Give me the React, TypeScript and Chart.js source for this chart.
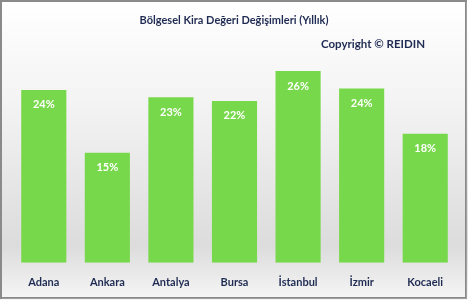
import React, { useEffect, useRef } from "react";
import { Chart, registerables } from "chart.js";

Chart.register(...registerables);

const categories = ["Adana", "Ankara", "Antalya", "Bursa", "İstanbul", "İzmir", "Kocaeli"];
const values = [23.7, 15.1, 22.7, 22.2, 26.3, 23.9, 17.7];
const valueLabels = ["24%", "15%", "23%", "22%", "26%", "24%", "18%"];
const titleText = "Bölgesel Kira Değeri Değişimleri (Yıllık)";
const copyrightText = "Copyright © REIDIN";

const FONT = "Lato, 'Open Sans', sans-serif";
const NAVY = "#1f2b52";

const framePlugin = {
  id: "frame",
  beforeDraw(chart: any) {
    const { ctx, width, height } = chart;
    ctx.save();
    const g = ctx.createLinearGradient(0, 0, 0, height);
    g.addColorStop(0, "#ffffff");
    g.addColorStop(0.35, "#f3f3f3");
    g.addColorStop(0.82, "#dcdcdc");
    g.addColorStop(1, "#f6f6f6");
    ctx.fillStyle = g;
    ctx.fillRect(0, 0, width, height);
    ctx.restore();
  },
  afterDraw(chart: any) {
    const { ctx, width, height } = chart;
    ctx.save();
    ctx.strokeStyle = "#8a8a8a";
    ctx.lineWidth = 2;
    ctx.strokeRect(1, 1, width - 3, height - 3);
    ctx.strokeStyle = "#a0a0a0";
    ctx.lineWidth = 1;
    ctx.beginPath();
    ctx.moveTo(width - 1.5, 2);
    ctx.lineTo(width - 1.5, height - 1.5);
    ctx.lineTo(2, height - 1.5);
    ctx.stroke();

    ctx.fillStyle = NAVY;
    ctx.textBaseline = "middle";
    ctx.textAlign = "center";
    ctx.font = `bold 11px ${FONT}`;
    ctx.fillText(titleText, 234, 20);
    ctx.textAlign = "right";
    ctx.font = `bold 11.5px ${FONT}`;
    ctx.fillText(copyrightText, 425, 44);

    const meta = chart.getDatasetMeta(0);
    ctx.fillStyle = "#ffffff";
    ctx.textAlign = "center";
    ctx.font = `bold 11px ${FONT}`;
    meta.data.forEach((bar: any, i: number) => {
      ctx.fillText(valueLabels[i], bar.x, bar.y + 15);
    });
    ctx.restore();
  },
};

export default function App() {
  const ref = useRef<HTMLCanvasElement>(null);
  useEffect(() => {
    document.body.style.margin = "0";
    const chart = new Chart(ref.current!, {
      type: "bar",
      data: {
        labels: categories,
        datasets: [
          {
            data: values,
            backgroundColor: "#78d84b",
            borderWidth: 0,
            categoryPercentage: 0.71,
            barPercentage: 1,
          },
        ],
      },
      options: {
        animation: false,
        responsive: false,
        layout: { padding: { top: 44, left: 12, right: 11, bottom: -2 } },
        plugins: { legend: { display: false }, tooltip: { enabled: false }, title: { display: false } },
        scales: {
          x: {
            grid: { display: false, drawTicks: false },
            border: { display: false },
            ticks: { color: NAVY, font: { family: FONT, size: 11, weight: "bold" }, padding: 13 },
          },
          y: {
            display: false,
            min: 0,
            max: 30,
          },
        },
      },
      plugins: [framePlugin],
    });
    return () => chart.destroy();
  }, []);
  return <canvas ref={ref} width={468} height={300} style={{ display: "block" }} />;
}
